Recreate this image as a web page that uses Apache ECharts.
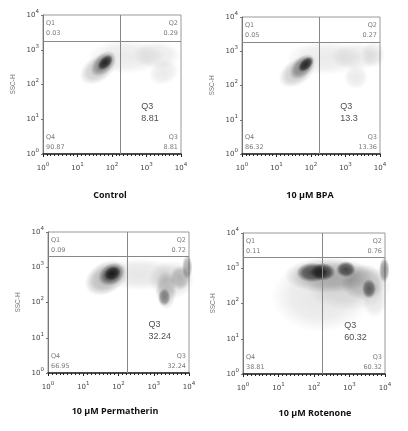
<!DOCTYPE html>
<html><head><meta charset="utf-8">
<script src="https://cdn.jsdelivr.net/npm/echarts@6/dist/echarts.min.js"></script>
<style>html,body{margin:0;padding:0;background:#fff}#c{width:408px;height:431px}</style>
</head><body><div id="c"></div>
<script>
// ----- data (log10 units) -----
const panelTitles = ['Control', '10 µM BPA', '10 µM Permatherin', '10 µM Rotenone'];
const tickLabels = ['0', '1', '2', '3', '4'];
const gateX = [2.23, 2.23, 2.24, 2.23];
const gateY = [3.25, 3.25, 3.3, 3.32];
const q1 = ['0.03', '0.05', '0.09', '0.11'];
const q2 = ['0.29', '0.27', '0.72', '0.76'];
const q3 = ['8.81', '13.36', '32.24', '60.32'];
const q4 = ['90.87', '86.32', '66.95', '38.81'];
const q3Big = ['8.81', '13.3', '32.24', '60.32'];
// density blobs: [x, y, width, height (decades), rotation deg, darkness]
const blobsControl = [
  [2.4,2.8,2.2,1.0,0,0.1],[3.3,2.85,1.4,0.8,0,0.1],[3.5,2.35,0.9,0.7,25,0.1],
  [1.6,2.45,1.2,0.75,35,0.25],[1.75,2.6,0.9,0.55,45,0.45],[1.8,2.63,0.55,0.32,45,0.9]
];
const blobsBPA = [
  [2.4,2.8,2.2,1.0,0,0.1],[3.3,2.85,1.5,0.8,0,0.1],[3.8,2.9,0.7,0.8,0,0.1],[3.3,2.25,0.7,0.7,0,0.1],
  [1.6,2.4,1.2,0.75,35,0.25],[1.75,2.55,0.9,0.55,45,0.45],[1.85,2.62,0.55,0.32,45,0.9]
];
const blobsPerm = [
  [2.6,2.8,2.2,0.9,0,0.12],[3.5,2.65,1.3,1.1,0,0.15],[3.35,2.35,0.6,1.1,0,0.25],
  [1.65,2.7,1.3,0.9,30,0.35],[1.8,2.8,0.8,0.6,30,0.65],[1.82,2.82,0.5,0.38,30,0.9],
  [3.3,2.15,0.35,0.5,0,0.5],[3.75,2.7,0.6,0.7,0,0.28],[3.95,3.0,0.3,0.7,0,0.4]
];
const blobsRot = [
  [2.2,2.2,2.8,2.0,0,0.12],[3.0,2.5,2.4,1.4,0,0.12],[3.7,2.1,0.7,1.0,0,0.12],
  [2.4,2.8,2.5,1.0,0,0.3],[3.4,2.6,1.3,1.0,0,0.25],
  [1.95,2.88,0.9,0.55,0,0.8],[2.25,2.9,0.7,0.5,0,0.85],[2.9,2.97,0.55,0.45,0,0.8],
  [3.55,2.42,0.4,0.55,0,0.65],[3.98,2.95,0.3,0.7,0,0.5]
];
const blobs = [blobsControl, blobsBPA, blobsPerm, blobsRot];

// ----- layout -----
const grids = [
  {left:43, top:15, width:138, height:139},
  {left:242, top:17, width:138, height:137},
  {left:48, top:232, width:141, height:141},
  {left:243, top:233, width:142, height:141}
];
const titlePos = [[105,186],[305,186],[110,402],[310,404]];

const supFmt = v => '{b|10}{s|' + tickLabels[Math.round(v)] + '}';
const richLab = {b:{fontSize:7,color:'#444',fontFamily:'DejaVu Sans'}, s:{fontSize:5.5,color:'#444',padding:[0,0,7,0],fontFamily:'DejaVu Sans'}};

const option = {animation:false, grid:[], xAxis:[], yAxis:[], series:[], title:[]};
for (let i = 0; i < 4; i++) {
  const g = grids[i];
  option.grid.push(Object.assign({show:true, borderColor:'#999', borderWidth:1}, g));
  option.xAxis.push({gridIndex:i, type:'value', min:0, max:4, interval:1,
    axisLine:{show:true, onZero:false, lineStyle:{color:'#222', width:1.5}},
    axisTick:{show:true, length:3, lineStyle:{color:'#222'}},
    minorTick:{show:true, splitNumber:9, length:2, lineStyle:{color:'#222'}},
    splitLine:{show:false},
    axisLabel:{formatter:supFmt, rich:richLab, margin:8}});
  option.yAxis.push({gridIndex:i, type:'value', min:0, max:4, interval:1,
    name:'SSC-H', nameLocation:'middle', nameGap:26, nameTextStyle:{fontSize:6.5, color:'#777'},
    axisLine:{show:true, onZero:false, lineStyle:{color:'#777', width:1}},
    axisTick:{show:true, length:2, lineStyle:{color:'#777'}},
    splitLine:{show:false},
    axisLabel:{formatter:supFmt, rich:richLab, margin:4}});
  const pxPerDec = g.width / 4;
  option.series.push({type:'scatter', xAxisIndex:i, yAxisIndex:i, clip:true, silent:true, z:2,
    data: blobs[i].map(b => ({value:[b[0], b[1]], symbolSize:[b[2]*pxPerDec, b[3]*pxPerDec], symbolRotate:b[4],
      itemStyle:{color:new echarts.graphic.RadialGradient(0.5,0.5,0.5,[
        {offset:0, color:'rgba(0,0,0,'+b[5]+')'},
        {offset:0.6, color:'rgba(0,0,0,'+(b[5]*0.75)+')'},
        {offset:1, color:'rgba(0,0,0,0)'}])}})),
    markLine:{silent:true, symbol:'none', label:{show:false}, lineStyle:{color:'#888', width:1, type:'solid'},
      data:[{xAxis:gateX[i]}, {yAxis:gateY[i]}]}
  });
  const small = {fontSize:6.5, color:'#555', fontFamily:'DejaVu Sans', lineHeight:10};
  option.series.push({type:'scatter', xAxisIndex:i, yAxisIndex:i, symbolSize:0, silent:true, z:5,
    data:[
      {value:[0,4], label:Object.assign({show:true, formatter:'Q1\n'+q1[i], position:[3,3], align:'left', verticalAlign:'top'}, small)},
      {value:[4,4], label:Object.assign({show:true, formatter:'Q2\n'+q2[i], position:[-3,3], align:'right', verticalAlign:'top'}, small)},
      {value:[0,0], label:Object.assign({show:true, formatter:'Q4\n'+q4[i], position:[3,-2], align:'left', verticalAlign:'bottom'}, small)},
      {value:[4,0], label:Object.assign({show:true, formatter:'Q3\n'+q3[i], position:[-3,-2], align:'right', verticalAlign:'bottom'}, small)},
      {value:[2.85,1.55], label:{show:true, formatter:'Q3\n'+q3Big[i], position:[0,0], align:'left', verticalAlign:'top', fontSize:9, lineHeight:12, color:'#222', fontFamily:'Liberation Sans'}}
    ]});
  option.title.push({text:panelTitles[i], left:titlePos[i][0], top:titlePos[i][1],
    textAlign:'center', textStyle:{fontSize:9, fontWeight:'bold', color:'#111', fontFamily:'Open Sans'}});
}
const chart = echarts.init(document.getElementById('c'));
chart.setOption(option);
</script></body></html>
